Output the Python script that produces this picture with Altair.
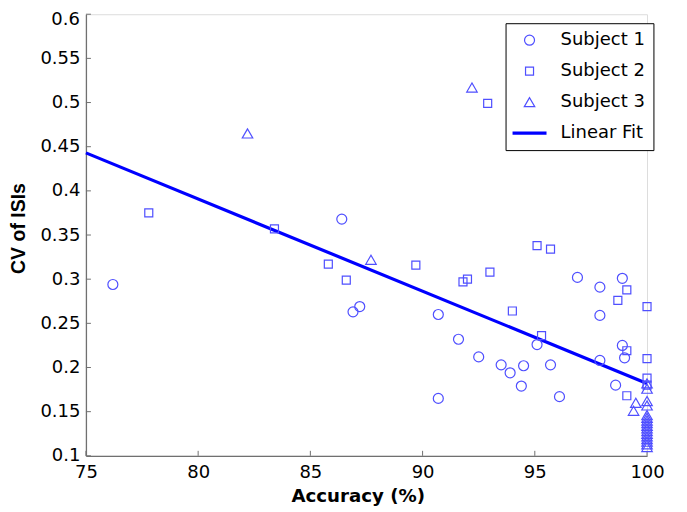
import altair as alt
import pandas as pd

# Subject 1 (circles)
s1_x = [76.2, 86.4, 86.9, 87.2, 90.7, 90.7, 91.6, 92.5, 93.5, 93.9, 94.5, 94.4,
        95.1, 95.7, 96.1, 96.9, 97.9, 97.9, 97.9, 98.6, 98.9, 98.9, 99.0]
s1_y = [0.294, 0.368, 0.263, 0.269, 0.260, 0.165, 0.232, 0.212, 0.203, 0.194, 0.202, 0.179,
        0.226, 0.203, 0.167, 0.302, 0.291, 0.259, 0.208, 0.180, 0.301, 0.225, 0.211]

# Subject 2 (squares)
s2_x = [77.8, 83.4, 85.8, 86.6, 89.7, 91.8, 92.0, 93.0, 92.9, 94.0, 95.1, 95.7,
        95.3, 98.7, 99.1, 99.1, 99.1, 100, 100, 100, 100]
s2_y = [0.375, 0.357, 0.317, 0.299, 0.316, 0.297, 0.300, 0.308, 0.499, 0.264, 0.338, 0.334,
        0.236, 0.276, 0.288, 0.219, 0.168, 0.269, 0.210, 0.188, 0.180]

# Subject 3 (triangles)
s3_x = [82.2, 87.7, 92.2, 99.4, 99.5, 100, 100, 100, 100, 100, 100, 100,
        100, 100, 100, 100, 100, 100, 100, 100, 100, 100]
s3_y = [0.465, 0.322, 0.517, 0.151, 0.160, 0.182, 0.176, 0.162, 0.157, 0.146, 0.143, 0.140,
        0.137, 0.134, 0.131, 0.128, 0.125, 0.122, 0.119, 0.116, 0.113, 0.110]

# Linear fit endpoints
fit_x = [75, 100]
fit_y = [0.443, 0.182]

x_ticks = [75, 80, 85, 90, 95, 100]
y_ticks = [0.1, 0.15, 0.2, 0.25, 0.3, 0.35, 0.4, 0.45, 0.5, 0.55, 0.6]

series = ["Subject 1", "Subject 2", "Subject 3", "Linear Fit"]

rows = []
for name, xs, ys in [("Subject 1", s1_x, s1_y), ("Subject 2", s2_x, s2_y), ("Subject 3", s3_x, s3_y)]:
    for a, b in zip(xs, ys):
        rows.append({"acc": a, "cv": b, "series": name})
pts = pd.DataFrame(rows)
fit = pd.DataFrame({"acc": fit_x, "cv": fit_y})
xt = pd.DataFrame({"t": x_ticks})
yt = pd.DataFrame({"t": y_ticks})
ytop = pd.DataFrame({"t": [y_ticks[-1]], "lab": ["0.6"]})

TOP = 6
W, H = 561.6, 456 - 8 - TOP
FONT = "DejaVu Sans"
AX = "#707070"

xscale = alt.Scale(domain=[75, 100], nice=False, zero=False)
yscale = alt.Scale(domain=[0.1, 0.6], nice=False, zero=False)

xaxis = alt.Axis(values=x_ticks, format="d", title="Accuracy (%)", grid=False, ticks=False,
                 labelFlush=False, domainColor=AX, domainWidth=1.3,
                 labelFont=FONT, labelFontSize=18, labelColor="black", labelPadding=8,
                 titleFont=FONT, titleFontSize=18.2, titleFontWeight="bold", titleColor="black",
                 titleX=272, titleY=41, titleBaseline="middle", titleAlign="center")
yaxis = alt.Axis(values=y_ticks, format="~g", title="CV of ISIs", grid=False, ticks=False,
                 labelFlush=False, domainColor=AX, domainWidth=1.3,
                 labelExpr="datum.value >= 0.59 ? '' : datum.label",
                 labelFont=FONT, labelFontSize=18, labelColor="black", labelPadding=6,
                 titleFont="Liberation Sans", titleFontSize=19.5, titleFontWeight="bold",
                 titleColor="black", titleX=-67, titleY=228 - (8 + TOP),
                 titleBaseline="middle", titleAlign="center", titleAngle=270)

legend = alt.Legend(title=None, orient="none", legendX=420, legendY=23 - (8 + TOP),
                    strokeColor="black", fillColor="white", padding=8,
                    labelFont=FONT, labelFontSize=18, labelColor="black",
                    labelOffset=22, symbolOffset=7, rowPadding=13,
                    symbolFillColor="transparent")

points = alt.Chart(pts).mark_point(filled=False, opacity=1).encode(
    x=alt.X("acc:Q", scale=xscale, axis=xaxis),
    y=alt.Y("cv:Q", scale=yscale, axis=yaxis),
    shape=alt.Shape("series:N", scale=alt.Scale(domain=series,
                    range=["circle", "square", "triangle-up", "M-3.4,0L3.4,0"]), legend=legend),
    stroke=alt.Stroke("series:N", scale=alt.Scale(domain=series,
                      range=["#4f4fff", "#4f4fff", "#4f4fff", "#0000ff"]), legend=legend),
    size=alt.Size("series:N", scale=alt.Scale(type="ordinal", domain=series,
                  range=[100, 64, 110, 100]), legend=legend),
    strokeWidth=alt.StrokeWidth("series:N", scale=alt.Scale(type="ordinal", domain=series,
                                range=[1.2, 1.2, 1.2, 3.2]), legend=legend),
)

line = alt.Chart(fit).mark_line(color="#0000ff", strokeWidth=3.2).encode(
    x=alt.X("acc:Q", scale=xscale),
    y=alt.Y("cv:Q", scale=yscale),
)

xtick = alt.Chart(xt).mark_rule(color=AX, strokeWidth=1).encode(
    x=alt.X("t:Q", scale=xscale),
    y=alt.value(H), y2=alt.value(H - 5),
)
ytick = alt.Chart(yt).mark_rule(color=AX, strokeWidth=1).encode(
    y=alt.Y("t:Q", scale=yscale),
    x=alt.value(0), x2=alt.value(5),
)
# top tick label, nudged down slightly so it is not clipped by the page edge
toplab = alt.Chart(ytop).mark_text(align="right", baseline="middle", dy=6, font=FONT,
                                   fontSize=18, color="black").encode(
    y=alt.Y("t:Q", scale=yscale),
    x=alt.value(-6),
    text="lab:N",
)

chart = alt.layer(xtick, ytick, line, points, toplab).properties(
    width=W, height=H,
    autosize=alt.AutoSizeParams(type="none"),
    padding={"left": 78, "top": TOP, "right": 32, "bottom": 56},
).configure_view(stroke=None).configure(background="white")

chart.save("out.html", embed_options={"renderer": "svg", "actions": False})
